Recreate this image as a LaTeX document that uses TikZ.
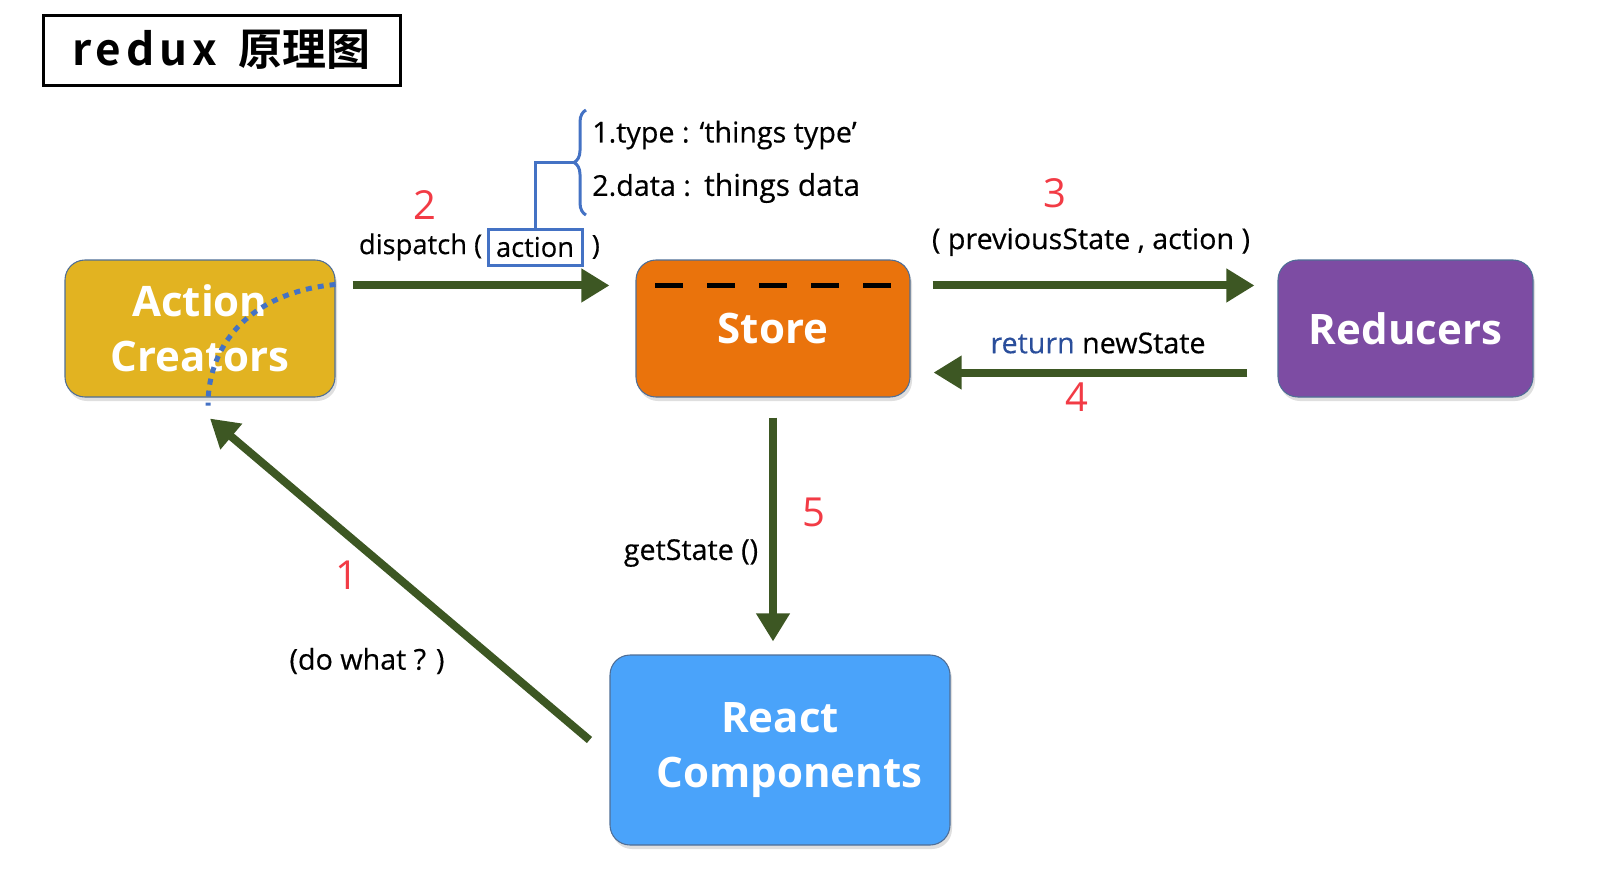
\documentclass[tikz,border=0pt]{standalone}
\usepackage{fontspec}
\setmainfont{Open Sans}
\newfontfamily\cjk{Noto Sans CJK SC}[BoldFont={Noto Sans CJK SC Bold}]
\usetikzlibrary{positioning}
\usetikzlibrary{calc}
\usetikzlibrary{arrows.meta}
\usetikzlibrary{shadows}
\usetikzlibrary{decorations.pathreplacing}
\definecolor{rx-green}{HTML}{3D5723}
\definecolor{rx-red}{HTML}{F23B45}
\definecolor{rx-blue}{HTML}{4472C4}
\definecolor{rx-navy}{HTML}{2A4E9B}
\definecolor{rx-edge}{HTML}{4F6E96}
\definecolor{ac-gold}{HTML}{E2B321}
\definecolor{st-orange}{HTML}{EA730C}
\definecolor{rd-purple}{HTML}{7D4CA3}
\definecolor{rc-blue}{HTML}{4AA3FA}
\tikzset{
  blk/.style 2 args={
    rectangle,
    rounded corners=15pt,
    draw=rx-edge,
    line width=0.8pt,
    fill=#1,
    minimum width=#2,
    minimum height=102.75pt,
    align=center,
    text=white,
    font=\bfseries\fontsize{31.5}{41}\selectfont,
    drop shadow={opacity=0.25, shadow xshift=1.5pt, shadow yshift=-3pt}},
}

\begin{document}
\begin{tikzpicture}[
  x=0.75pt, y=-0.75pt,
  arr/.style={draw=rx-green, line width=6pt, -{Triangle[length=21pt,width=24pt]}},
  num/.style={text=rx-red, font=\fontsize{30}{30}\selectfont},
  lbl/.style={font=\fontsize{21.5}{24}\selectfont\addfontfeatures{FakeBold=0.4}, inner sep=0pt}]
  \useasboundingbox (0,0) rectangle (1601,882);

  % title
  \node[draw, line width=2.25pt, minimum width=267.75pt, minimum height=52.5pt,
    font=\cjk\bfseries\fontsize{33}{33}\selectfont] (title) at (221.5,50)
    {{\addfontfeatures{LetterSpace=11}redux}\hspace{16pt}原理图};

  % blocks
  \node[blk={ac-gold}{202.5pt}] (ac) at (200,328.5) {Action\\Creators};
  \node[blk={st-orange}{205.5pt}] (store) at (773,328.5) {Store};
  \node[blk={rd-purple}{191.25pt}] (red) at (1405.5,328.5) {Reducers};
  \node[blk={rc-blue}{255pt}, minimum height=142.5pt] (react) at (780,750) {React\\\hspace{14pt}Components};
  \draw[line width=3.75pt, dash pattern=on 21pt off 18pt]
    ([shift={(20,26)}]store.north west) -- ([shift={(0,26)}]store.north east);

  % dotted curve over action creators
  \draw[rx-blue, line width=3.75pt, dash pattern=on 4.5pt off 4.5pt]
    ([shift={(0,25)}]ac.north east) .. controls (255,292) and (208,340) .. ([shift={(8,8)}]ac.south);

  % arrows
  \draw[arr] ([shift={(17,26)}]ac.north east) -- ([shift={(-26,26)}]store.north west);
  \draw[arr] ([shift={(22,26)}]store.north east) -- ([shift={(-23,26)}]red.north west);
  \draw[arr] ([shift={(-30,-25)}]red.south west) -- ([shift={(23,-25)}]store.south east);
  \draw[arr] ([shift={(0,20)}]store.south) -- ([shift={(-7,-13)}]react.north);
  \draw[arr] ([shift={(-20,-10)}]react.west) -- ([shift={(10,21)}]ac.south);

  % dispatch label
  \node[lbl, font=\fontsize{20.5}{24}\selectfont\addfontfeatures{FakeBold=0.4}, draw=rx-blue, line width=2.25pt,
    minimum width=70.5pt, minimum height=27pt] (act) at (535,247) {action};
  \node[lbl, font=\fontsize{20.5}{24}\selectfont\addfontfeatures{FakeBold=0.4}, anchor=east] (disp) at ([xshift=-3pt]act.west) {dispatch (};
  \node[lbl, font=\fontsize{20.5}{24}\selectfont\addfontfeatures{FakeBold=0.4}, anchor=west] (disp-r) at ([xshift=6pt]act.east) {)};
  \coordinate (brace-tip) at (574,162.5);
  \draw[rx-blue, line width=2.25pt] (act.north) |- (brace-tip);
  \draw[rx-blue, line width=2.25pt, decorate, decoration={brace, amplitude=9pt}] (586,215) -- (586,110);
  \node[lbl, anchor=west] (ty) at (592,135) {1.type : ‘things type’};
  \node[lbl, anchor=west] (da) at (592,188) {2.data :\hspace{10pt}{\fontsize{22.5}{24}\selectfont things data}};

  % other labels
  \node[lbl] (prev) at (1091,242) {( previousState , action )};
  \node[lbl] (ret) at (1098,343) {{\color{rx-navy}return} newState};
  \node[lbl] (get) at (691,553) {getState ()};
  \node[lbl] (dowhat) at (367,661) {(do what ? )};

  % step numbers
  \node[num] (n1) at (347,575) {1};
  \node[num] (n2) at (425,205) {2};
  \node[num] (n3) at (1055,193) {3};
  \node[num] (n4) at (1077,397) {4};
  \node[num] (n5) at (814,512) {5};
\end{tikzpicture}
\end{document}
